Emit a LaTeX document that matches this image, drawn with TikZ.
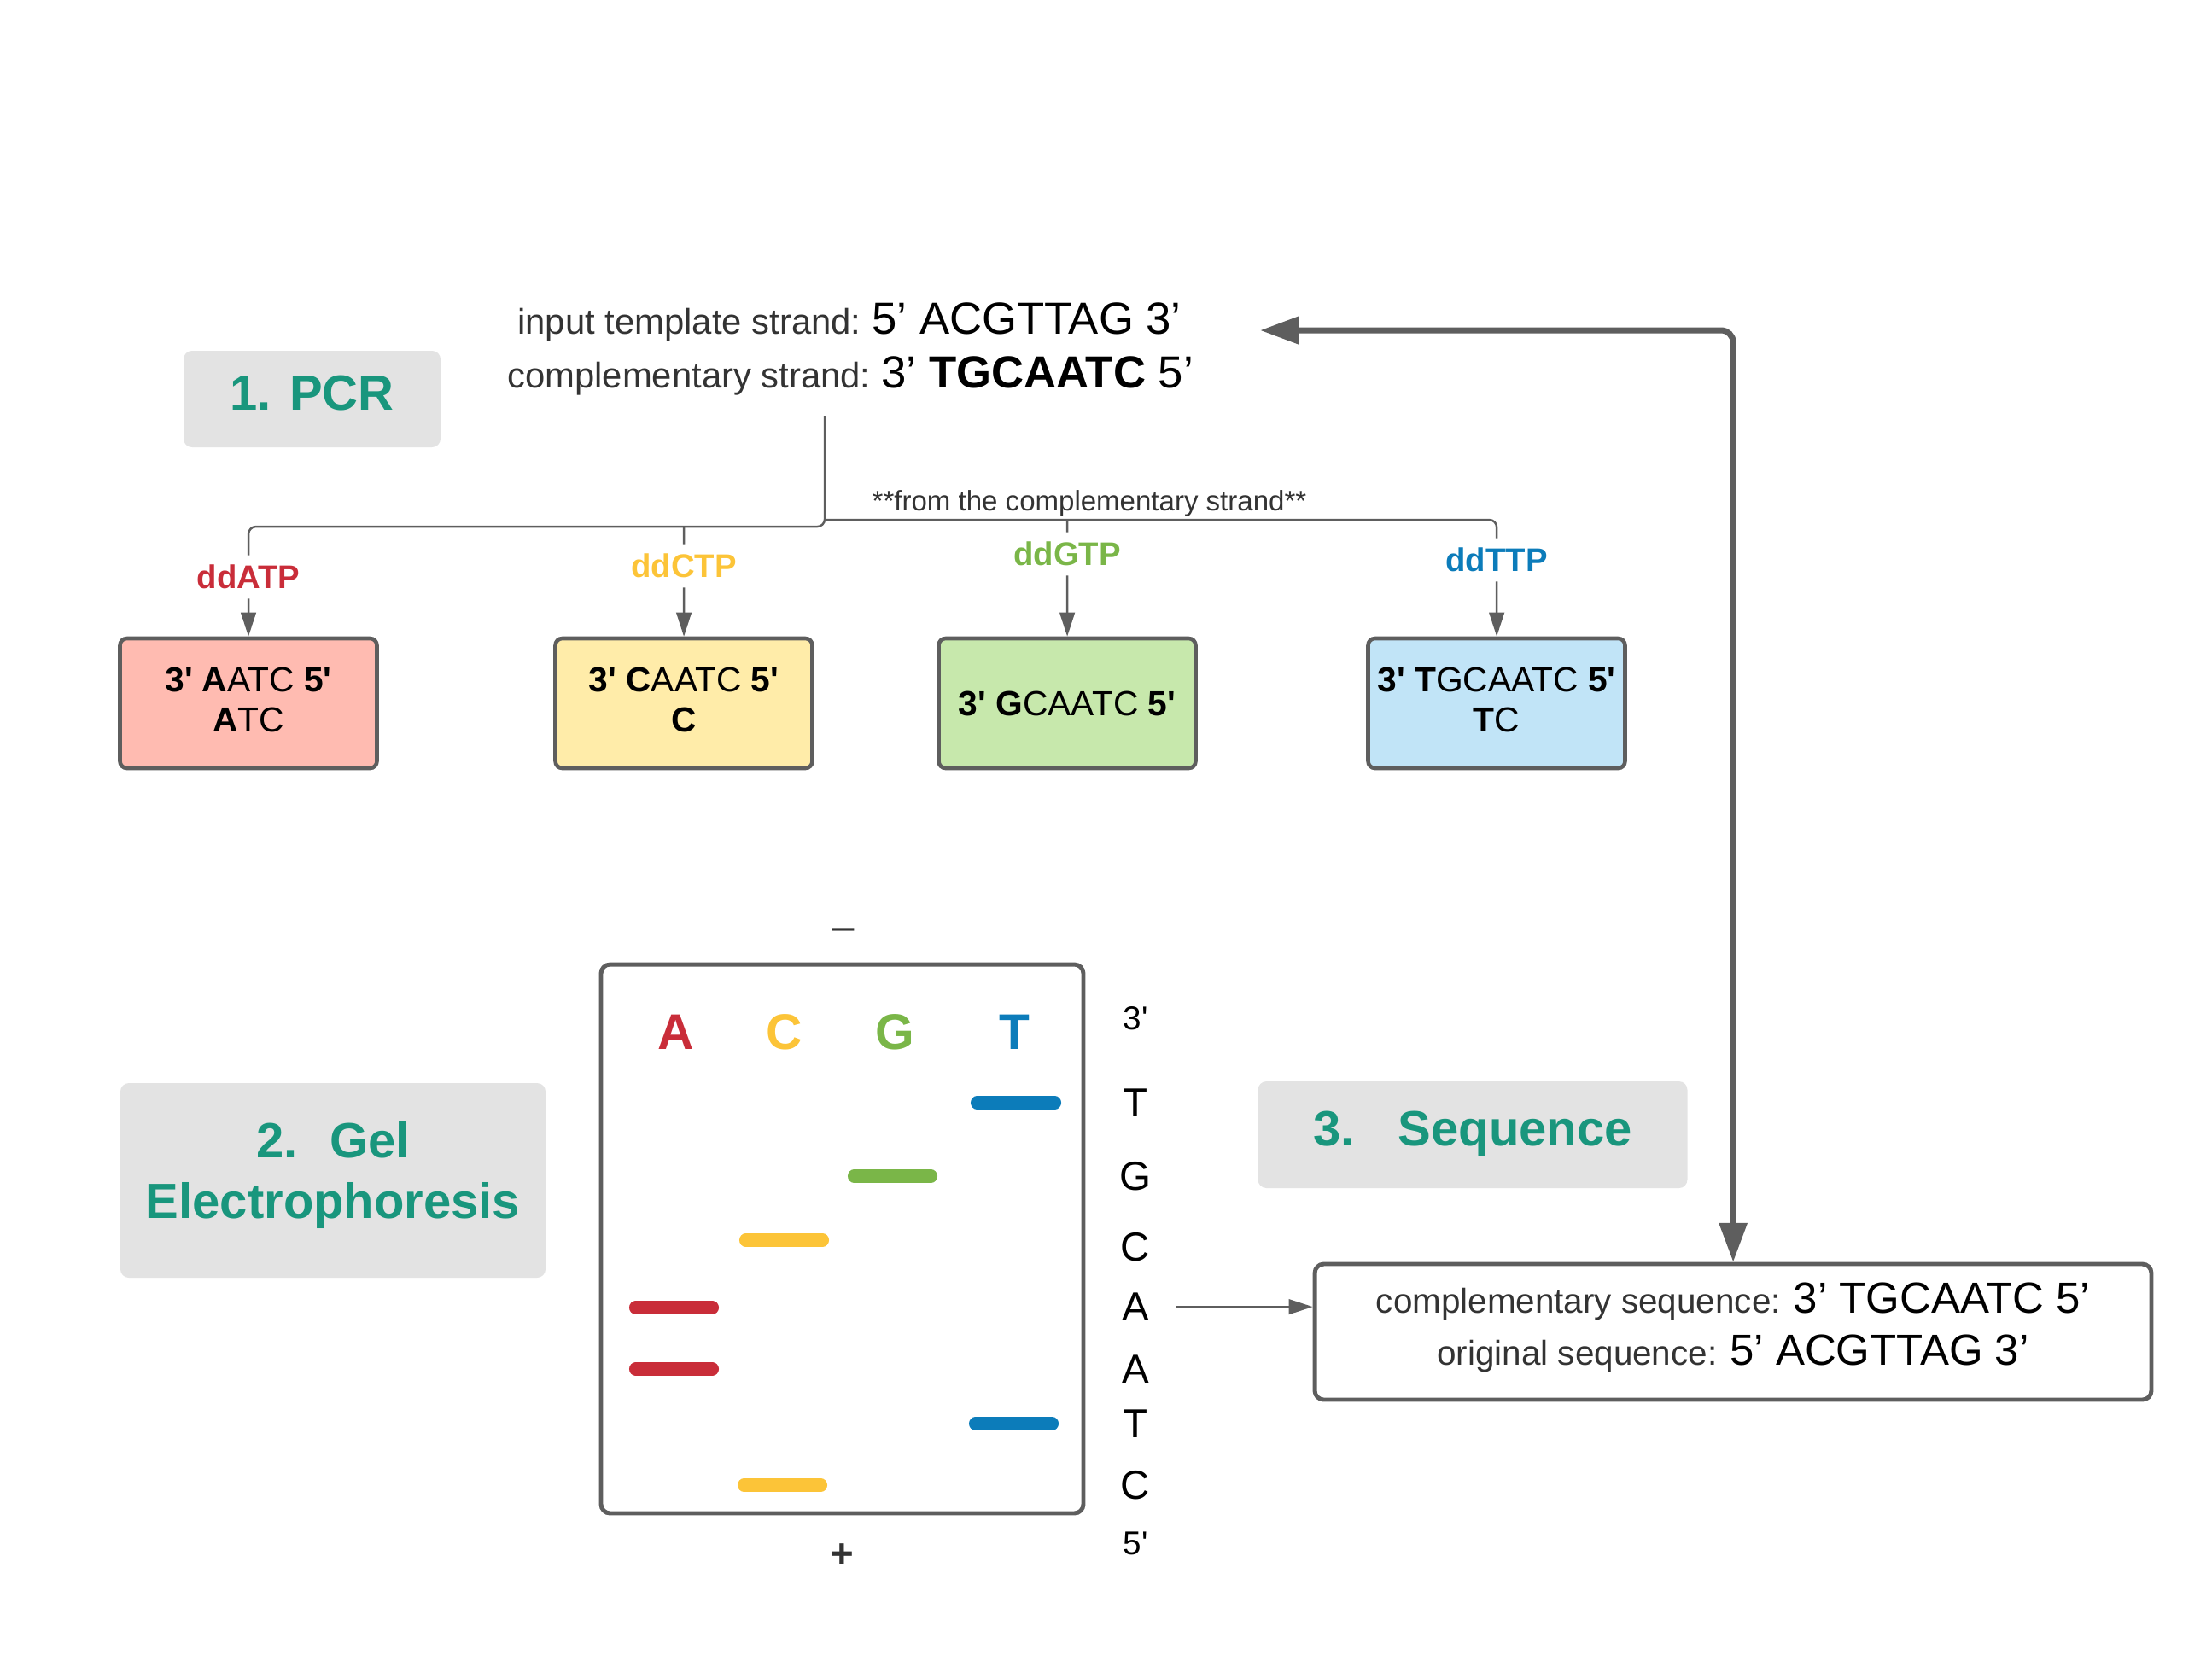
\documentclass[tikz,border=0pt]{standalone}
\usepackage{fontspec}
\setmainfont{Liberation Sans}
\newfontfamily\lib{Liberation Sans}
\usetikzlibrary{arrows.meta}
\definecolor{pcrteal}{HTML}{19967D}
\definecolor{edge}{HTML}{5E5E5E}
\definecolor{stagefill}{HTML}{E3E3E3}
\definecolor{txtgray}{HTML}{333333}
\definecolor{colA}{HTML}{C92D39}
\definecolor{colC}{HTML}{FCC438}
\definecolor{colG}{HTML}{7AB648}
\definecolor{colT}{HTML}{0C7CBA}
\definecolor{fillA}{HTML}{FFBBB1}
\definecolor{fillC}{HTML}{FFECA9}
\definecolor{fillG}{HTML}{C7E8AC}
\definecolor{fillT}{HTML}{C1E4F7}
\newcommand{\lbltxt}[1]{{\color{txtgray}\fontsize{11.5}{17.4}\selectfont #1}}
\newcommand{\seqtxt}[1]{{\fontsize{14.5}{17.4}\selectfont #1}}
\newcommand{\lbltop}[1]{{\color{txtgray}\fontsize{11.9}{17.4}\selectfont #1}}
\newcommand{\seqtop}[1]{{\fontsize{15}{17.4}\selectfont #1}}
\begin{document}
\begin{tikzpicture}[scale=0.1]
    \tikzstyle{every node}+=[inner sep=0pt, font=\lib]
    \tikzstyle{stage}=[fill=stagefill, rounded corners=2.8pt, text=pcrteal, align=center, text depth=4pt, font=\lib\bfseries\fontsize{16.5}{20.2}\selectfont]
    \tikzstyle{frag}=[draw=edge, line width=1.3pt, rounded corners=2.3pt, minimum width=30.1mm, minimum height=15.2mm, align=center, font=\lib\fontsize{11.6}{13.6}\selectfont]
    \tikzstyle{dd}=[inner ysep=3pt, font=\lib\bfseries\fontsize{10.9}{12}\selectfont]
    \tikzstyle{conn}=[draw=edge, line width=0.7pt]
    \tikzstyle{arr}=[conn, -{Triangle[length=8pt,width=5pt]}]
    \tikzstyle{big}=[draw=edge, line width=2pt, rounded corners=4pt, {Triangle[length=13pt,width=9pt]}-{Triangle[length=13pt,width=9pt]}]
    \tikzstyle{band}=[line width=4.3pt, line cap=round]
    \tikzstyle{lane}=[font=\lib\bfseries\fontsize{16.7}{20}\selectfont]
    \tikzstyle{readout}=[font=\lib\fontsize{13.5}{16}\selectfont]
    \tikzstyle{prime}=[font=\lib\fontsize{11}{13}\selectfont]
    \useasboundingbox (0,0) rectangle (259.1,-195.8);
    % step 1
    \node[anchor=base] (tmpl) at (99.5,-39.1) {\lbltop{input template strand:} \seqtop{5’ ACGTTAG 3’}};
    \node[anchor=base] (comp) at (99.6,-45.4) {\lbltop{complementary strand:} \seqtop{3’ \textbf{TGCAATC} 5’}};
    \node[stage, minimum width=30.1mm, minimum height=11.3mm] (pcr) at (36.55,-46.75) {1. PCR};
    \coordinate (trunk) at (96.6,-48.7);
    \coordinate (lbr) at (96.6,-61.7);
    \coordinate (rbr) at (96.6,-60.9);
    \node[font=\lib\fontsize{9.4}{11}\selectfont, text=txtgray] (note) at (127.6,-59) {**from the complementary strand**};
    \node[dd, text=colA] (ddA) at (29.1,-67.6) {ddATP};
    \node[dd, text=colC] (ddC) at (80.1,-66.3) {ddCTP};
    \node[dd, text=colG] (ddG) at (125,-64.9) {ddGTP};
    \node[dd, text=colT] (ddT) at (175.3,-65.6) {ddTTP};
    \node[frag, fill=fillA] (boxA) at (29.1,-82.4) {\textbf{3' A}ATC \textbf{5'}\\\textbf{A}TC\vphantom{p}};
    \node[frag, fill=fillC] (boxC) at (80.1,-82.4) {\textbf{3' C}AATC \textbf{5'}\\\textbf{C}\vphantom{p}};
    \node[frag, fill=fillG] (boxG) at (125,-82.4) {\textbf{3' G}CAATC \textbf{5'}};
    \node[frag, fill=fillT] (boxT) at (175.3,-82.4) {\textbf{3' T}GCAATC \textbf{5'}\\\textbf{T}C\vphantom{p}};
    \draw[conn, rounded corners=2.5pt] (trunk) -- (lbr) -| (ddA);
    \draw[conn, rounded corners=2.5pt] (rbr) -| (ddT);
    \draw[conn] (ddC |- lbr) -- (ddC);
    \draw[conn] (ddG |- rbr) -- (ddG);
    \draw[arr] (ddA) -- (boxA);
    \draw[arr] (ddC) -- (boxC);
    \draw[arr] (ddG) -- (boxG);
    \draw[arr] (ddT) -- (boxT);
    % step 2
    \node[stage, minimum width=49.8mm, minimum height=22.8mm, text depth=6.8pt] (gelhead) at (39,-138.3) {2.\hspace{3.8mm}Gel\\Electrophoresis};
    \node[draw=edge, line width=1.4pt, rounded corners=3pt, minimum width=56.5mm, minimum height=64.3mm] (gel) at (98.65,-145.15) {};
    \node[font=\lib\fontsize{13.5}{16}\selectfont, text=txtgray] (neg) at (98.8,-109.5) {–};
    \node[font=\lib\bfseries\fontsize{13.5}{16}\selectfont, text=txtgray] (pos) at (98.6,-182.3) {+};
    \node[lane, text=colA] (laneA) at (79.2,-120.9) {A};
    \node[lane, text=colC] (laneC) at (91.9,-120.9) {C};
    \node[lane, text=colG] (laneG) at (104.8,-120.9) {G};
    \node[lane, text=colT] (laneT) at (118.8,-120.9) {T};
    \draw[band, colT] (114.45,-129.2) -- (123.55,-129.2);
    \draw[band, colG] (100.05,-137.8) -- (109.05,-137.8);
    \draw[band, colC] (87.35,-145.3) -- (96.35,-145.3);
    \draw[band, colA] (74.45,-153.2) -- (83.45,-153.2);
    \draw[band, colA] (74.45,-160.4) -- (83.45,-160.4);
    \draw[band, colT] (114.25,-166.8) -- (123.25,-166.8);
    \draw[band, colC] (87.15,-174.0) -- (96.15,-174.0);
    \node[prime] (r3) at (133,-119.3) {3'};
    \node[readout] (rT1) at (133,-129.2) {T};
    \node[readout] (rG) at (133,-137.8) {G};
    \node[readout] (rC1) at (133,-146.1) {C};
    \node[readout] (rA1) at (133,-153.1) {A};
    \node[readout] (rA2) at (133,-160.4) {A};
    \node[readout] (rT2) at (133,-166.8) {T};
    \node[readout] (rC2) at (133,-174.0) {C};
    \node[prime] (r5) at (133,-180.8) {5'};
    % step 3
    \node[stage, minimum width=50.3mm, minimum height=12.5mm] (seqhead) at (172.5,-132.95) {3.\hspace{5.1mm}Sequence};
    \node[draw=edge, line width=1.4pt, rounded corners=3pt, fill=white, minimum width=98mm, minimum height=15.9mm, align=center, text depth=5.5pt, font=\lib\fontsize{11.5}{17.4}\selectfont] (result) at (203,-156.05) {\lbltxt{complementary sequence:} \seqtxt{3’ TGCAATC 5’}\\\lbltxt{original sequence:} \seqtxt{5’ ACGTTAG 3’}};
    \draw[arr, shorten <=9pt] (rA1.east) -- (rA1.east -| result.west);
    \coordinate (fb) at (147.6,-38.7);
    \draw[big] (fb) -| (result.north);
\end{tikzpicture}
\end{document}
